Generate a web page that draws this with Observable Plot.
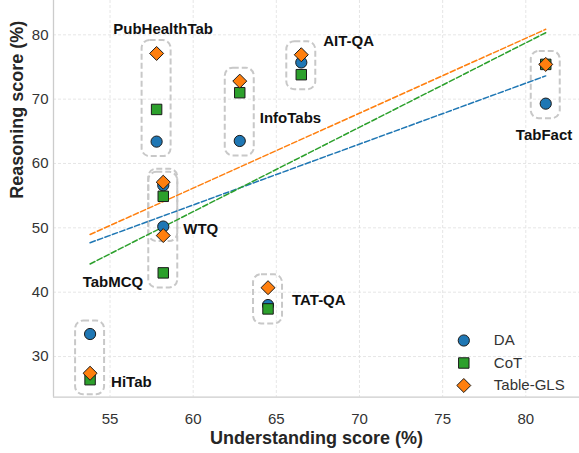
<!DOCTYPE html>
<html>
<head>
<meta charset="utf-8">
<script src="https://cdn.jsdelivr.net/npm/d3@7"></script>
<script src="https://cdn.jsdelivr.net/npm/@observablehq/plot@0.6"></script>
<style>
  html, body { margin: 0; padding: 0; background: #fff; }
  #chart svg { display: block; }
</style>
</head>
<body>
<div id="chart"></div>
<script>
// ---- data ----
const datasets = ["PubHealthTab", "InfoTabs", "AIT-QA", "TabFact", "WTQ", "TabMCQ", "TAT-QA", "HiTab"];
const understanding = [57.8, 62.8, 66.5, 81.2, 58.2, 58.2, 64.5, 53.8];
const daScores  = [63.4, 63.5, 75.7, 69.3, 50.2, 56.6, 38.0, 33.5];
const cotScores = [68.4, 71.0, 73.8, 75.4, 54.9, 43.0, 37.4, 26.4];
const glsScores = [77.1, 72.8, 76.9, 75.4, 57.1, 48.8, 40.7, 27.4];
const methods = ["DA", "CoT", "Table-GLS"];
const xTicks = [55, 60, 65, 70, 75, 80];
const yTicks = [30, 40, 50, 60, 70, 80];
const xTitle = "Understanding score (%)";
const yTitle = "Reasoning score (%)";

// ---- styling / layout ----
const colors = ["#1f77b4", "#2ca02c", "#ff7f0e"];
const symbols = ["circle", "square", "diamond2"];
const radii = [5.6, 5.9, 6.3];
const xDomain = [51.6, 83.23];
const yDomain = [23.68, 85.33];
// label placement relative to each group (pixels)
const labelPlacement = [
  {ref: "top", dx: 6.5, dy: -24.5, anchor: "middle"},
  {ref: "mid", dx: 20, dy: 7, anchor: "start"},
  {ref: "top", dx: 22, dy: -14, anchor: "start"},
  {ref: "bottom", dx: -1.7, dy: 32, anchor: "middle"},
  {ref: "bottom", dx: 20, dy: 3, anchor: "start"},
  {ref: "bottom", dx: -20, dy: 9, anchor: "end"},
  {ref: "mid", dx: 24, dy: 2, anchor: "start"},
  {ref: "bottom", dx: 21, dy: 2, anchor: "start"}
];

const series = [daScores, cotScores, glsScores];
const rows = datasets.flatMap((name, i) =>
  methods.map((m, j) => ({dataset: name, method: m, x: understanding[i], y: series[j][i]})));
const groups = datasets.map((name, i) => {
  const ys = series.map(s => s[i]);
  return {dataset: name, x: understanding[i], ymin: d3.min(ys), ymax: d3.max(ys)};
});

const marks = [];
marks.push(Plot.gridX(xTicks, {stroke: "#e0e0e0", strokeOpacity: 1, strokeDasharray: "3,2", strokeWidth: 0.8}));
marks.push(Plot.gridY(yTicks, {stroke: "#e0e0e0", strokeOpacity: 1, strokeDasharray: "3,2", strokeWidth: 0.8}));
marks.push(Plot.ruleX([xDomain[0]], {stroke: "#cccccc", strokeWidth: 1.3}));
marks.push(Plot.ruleY([yDomain[0]], {stroke: "#cccccc", strokeWidth: 1.3}));
marks.push(Plot.axisX(xTicks, {tickSize: 0, tickPadding: 16, fontSize: 15, fill: "#333", label: null}));
marks.push(Plot.axisY(yTicks, {tickSize: 0, tickPadding: 5, fontSize: 15, fill: "#333", label: null}));

// dashed rounded boxes around groups
marks.push(Plot.rect(groups, {
  x1: "x", x2: "x", y1: "ymin", y2: "ymax",
  insetLeft: -14.5, insetRight: -14.5, insetTop: -13, insetBottom: -15,
  rx: 8, fill: "none", stroke: "#c8c8c8", strokeWidth: 2, strokeDasharray: "6,3"
}));

// regression lines
methods.forEach((m, j) => {
  marks.push(Plot.linearRegressionY(rows.filter(d => d.method === m), {
    x: "x", y: "y", stroke: colors[j], ci: 0, strokeWidth: 1.5, strokeDasharray: "5.5,2.4"
  }));
});

// points
methods.forEach((m, j) => {
  marks.push(Plot.dot(rows.filter(d => d.method === m), {
    x: "x", y: "y", symbol: symbols[j], r: radii[j], fill: colors[j],
    stroke: "#1a1a1a", strokeWidth: 1
  }));
});

// group labels
groups.forEach((g, i) => {
  const p = labelPlacement[i];
  const yv = p.ref === "top" ? g.ymax : p.ref === "bottom" ? g.ymin : (g.ymin + g.ymax) / 2;
  marks.push(Plot.text([g], {
    x: "x", y: () => yv, text: "dataset", dx: p.dx, dy: p.dy, textAnchor: p.anchor,
    lineAnchor: "middle", fontWeight: "bold", fontSize: 15, fill: "#111"
  }));
});

// legend
methods.forEach((m, j) => {
  const dy = -56.7 + 22.5 * j;
  marks.push(Plot.dot([m], {frameAnchor: "bottom-right", dx: -115.7, dy, symbol: symbols[j], r: radii[j],
    fill: colors[j], stroke: "#1a1a1a", strokeWidth: 1}));
  marks.push(Plot.text([m], {frameAnchor: "bottom-right", dx: -85.7, dy, text: d => d,
    textAnchor: "start", lineAnchor: "middle", fontSize: 15, fill: "#333"}));
});

// axis titles
marks.push(Plot.text([xTitle], {frameAnchor: "bottom", dy: 41.5, text: d => d, lineAnchor: "middle",
  fontWeight: "bold", fontSize: 18, fill: "#262626"}));
marks.push(Plot.text([yTitle], {frameAnchor: "left", dx: -36, text: d => d, rotate: -90, lineAnchor: "middle",
  fontWeight: "bold", fontSize: 18, fill: "#262626"}));

const chart = Plot.plot({
  width: 579, height: 453,
  marginLeft: 53, marginRight: 0, marginTop: 0, marginBottom: 56.3,
  x: {domain: xDomain}, y: {domain: yDomain},
  style: {fontFamily: "'Liberation Sans', Arial, sans-serif", fontSize: "15px", background: "#fff", overflow: "visible"},
  marks
});
document.getElementById("chart").appendChild(chart);
</script>
</body>
</html>
